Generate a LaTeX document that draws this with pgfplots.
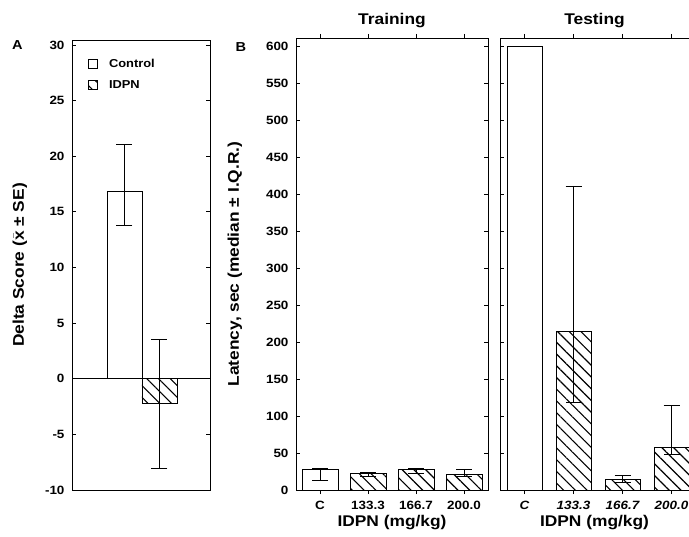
\documentclass[border=0pt]{standalone}
\usepackage{fontspec}
\setmainfont{Liberation Sans}[FakeStretch=1.12]
\usepackage{pgfplots}
\pgfplotsset{compat=1.18}
\usetikzlibrary{patterns.meta}
\begin{document}
\begin{tikzpicture}
\useasboundingbox (0pt,0pt) rectangle (689pt,-537pt);
\pgfplotsset{
  myaxis/.style={
    scale only axis,
    anchor=north west,
    tick align=inside,
    axis line style={line width=0.9pt},
    major tick length=4pt,
    every tick/.style={black, line width=0.8pt},
    /pgf/number format/assume math mode=true,
    ticklabel style={font=\fontsize{12}{14}\selectfont\bfseries},
    yticklabel style={xshift=-4pt},
    xticklabel style={yshift=-3.5pt},
    title style={font=\fontsize{15.5}{18}\selectfont\bfseries, at={(0.5,1)}, anchor=base, yshift=7pt},
    every axis x label/.style={font=\fontsize{15.5}{18}\selectfont\bfseries, at={(axis description cs:0.5,-0.0715)}, anchor=center},
    ybar,
  },
  eb/.style={error bars/.cd, y dir=both, y explicit,
    error bar style={line width=0.7pt, black},
    error mark options={rotate=90, mark size=8pt, line width=0.7pt, black}},
  hatch/.style={draw=black, line width=0.8pt, bar shift=0pt, pattern={Lines[angle=-45,distance=8.3pt,line width=1.1pt]}},
  plain/.style={draw=black, line width=0.8pt, bar shift=0pt, fill=white},
}
% Panel A
\begin{axis}[myaxis,
  at={(72pt,-40pt)}, width=138pt, height=450pt,
  xmin=0, xmax=3.943, ymin=-10, ymax=30.45,
  bar width=1,
  xtick=\empty,
  ytick={-10,-5,0,5,10,15,20,25,30},
  yticklabels={-10,-5,0,5,10,15,20,25,30},
  every axis y label/.style={font=\fontsize{15.5}{18}\selectfont\bfseries, at={(axis description cs:-0.377,0.5)}, rotate=90, anchor=center},
  ylabel={Delta Score ($\bar{\textbf{x}}$ ± SE)},
  legend image code/.code={\draw[#1] (0pt,-4.5pt) rectangle (9pt,4.5pt);},
  legend style={at={(0.116,0.962)}, anchor=north west, draw=none, fill=none,
    font=\fontsize{11.5}{13}\selectfont\bfseries, row sep=7pt, inner sep=0pt,
    /tikz/every odd column/.append style={column sep=9pt},
    cells={anchor=west}},
]
\addplot[sharp plot, black, line width=0.8pt, forget plot] coordinates {(0,0) (3.943,0)};
\addplot[plain, eb] coordinates {(1.5,16.8) += (0,4.3) -= (0,3.0)};
\addlegendentry{Control}
\addplot[hatch, eb] coordinates {(2.5,-2.25) += (0,5.75) -= (0,5.8)};
\addlegendentry{IDPN}
\end{axis}
% Panel B training
\begin{axis}[myaxis,
  at={(296pt,-38pt)}, width=192pt, height=452pt,
  xmin=-0.5, xmax=3.5, ymin=0, ymax=611,
  bar width=0.75,
  xtick={0,1,2,3}, xticklabels={C,133.3,166.7,200.0},
  ytick={0,50,100,150,200,250,300,350,400,450,500,550,600},
  yticklabels={0,50,100,150,200,250,300,350,400,450,500,550,600},
  title={Training},
  xlabel={IDPN (mg/kg)},
  every axis y label/.style={font=\fontsize{15.5}{18}\selectfont\bfseries, at={(axis description cs:-0.318,0.5)}, rotate=90, anchor=center},
  ylabel={Latency, sec (median ± I.Q.R.)},
]
\addplot[plain, eb] coordinates {(0,28) += (0,1.5) -= (0,14.5)};
\addplot[hatch, eb] coordinates {(1,22) += (0,2) -= (0,3) (2,28) += (0,1.5) -= (0,5) (3,21) += (0,7) -= (0,2)};
\end{axis}
% Panel B testing
\begin{axis}[myaxis,
  at={(500pt,-38pt)}, width=189pt, height=452pt,
  xmin=-0.5, xmax=3.357, ymin=0, ymax=611,
  axis x line*=box, axis y line*=left, axis line style={-},
  bar width=0.714,
  xtick={0,1,2,3}, xticklabels={C,133.3,166.7,200.0},
  xticklabel style={font=\fontsize{12}{14}\selectfont\bfseries\itshape},
  ytick={0,50,100,150,200,250,300,350,400,450,500,550,600},
  yticklabels={},
  title={Testing},
  xlabel={IDPN (mg/kg)},
]
\addplot[plain] coordinates {(0,600)};
\addplot[hatch, eb] coordinates {(1,214) += (0,197) -= (0,96) (2,14) += (0,6) -= (0,3) (3,58) += (0,56) -= (0,10)};
\end{axis}
\node[font=\fontsize{13}{15}\selectfont\bfseries] at (17.5pt,-45pt) {A};
\node[font=\fontsize{13}{15}\selectfont\bfseries] at (241pt,-47.5pt) {B};
\end{tikzpicture}
\end{document}
